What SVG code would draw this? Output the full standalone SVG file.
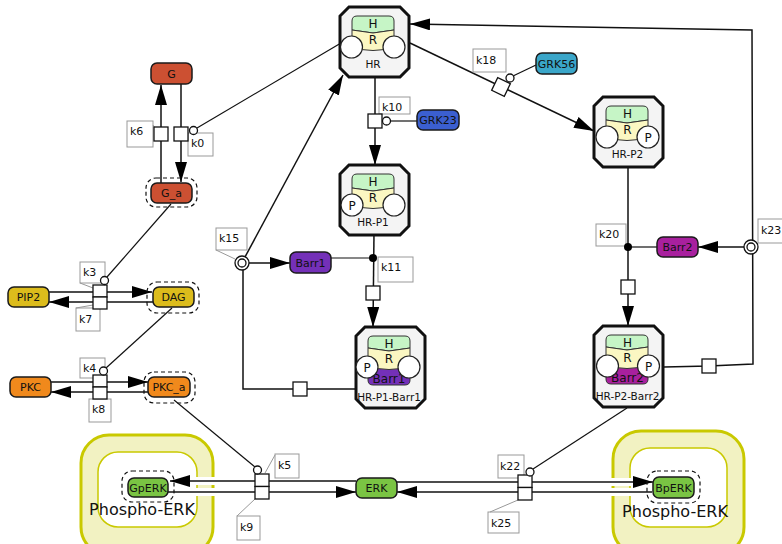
<svg xmlns="http://www.w3.org/2000/svg" xmlns:xlink="http://www.w3.org/1999/xlink" width="782" height="544" viewBox="0 0 782 544">
<style>
text{font-family:"DejaVu Sans","Liberation Sans",sans-serif;fill:#111}
.sp{stroke:#1a1a1a;stroke-width:1.5}
.spt{font-size:11px;text-anchor:middle}
.dash{fill:none;stroke:#111;stroke-width:1.2;stroke-dasharray:4,3}
.oct{fill:#f4f4f4;stroke:#111;stroke-width:3}
.hbox{fill:#c6f5c6;stroke:#333;stroke-width:1}
.rbox{fill:#fbf7c2;stroke:#333;stroke-width:1}
.cir{fill:#fff;stroke:#222;stroke-width:1.2}
.ct{font-size:12px;text-anchor:middle}
.cl{font-size:10.5px;text-anchor:middle}
.pn{fill:#fff;stroke:#111;stroke-width:1.3}
.lbl{fill:#fff;stroke:#999;stroke-width:1}
.lt{font-size:11px}
.lead{stroke:#999;stroke-width:1;fill:none}
.mod{stroke:#111;stroke-width:1.2;fill:none}
.rx{stroke:#111;stroke-width:1.5;fill:none}
.halo{stroke:#fff;stroke-width:8;fill:none}
.outer{fill:#f2f2c2;stroke:#c9c900;stroke-width:3}
.inner{fill:#fff;stroke:#c9c900;stroke-width:1.5}
.ctext{font-size:16px;text-anchor:middle}
</style>
<defs>
<marker id="arr" viewBox="0 0 20 12" refX="20" refY="6" markerWidth="20" markerHeight="12" orient="auto" markerUnits="userSpaceOnUse">
<path d="M0,0 L20,6 L0,12 z" fill="#000"/>
</marker>
<polygon id="octS" class="oct" points="9,0 60,0 69,9 69,61 60,70 9,70 0,61 0,9"/>
<polygon id="octT" class="oct" points="9,0 60,0 69,9 69,72 60,81 9,81 0,72 0,9"/>
<path id="hS" class="hbox" d="M12,14 Q12,9 17,9 L49,9 Q54,9 54,14 L54,23 L33,26 L12,23 Z"/>
<path id="rS" class="rbox" d="M12,23 L33,26 L54,23 L54,40 Q33,47 12,40 Z"/>
<path id="hT" class="hbox" d="M12,14 Q12,9 17,9 L49,9 Q54,9 54,14 L54,21 L33,24 L12,21 Z"/>
<path id="rT" class="rbox" d="M12,21 L33,24 L54,21 L54,45 L12,45 Z"/>
<path id="bT" d="M12,39 Q33,46 54,39 L54,53 Q54,58 49,58 L17,58 Q12,58 12,53 Z" stroke="#333" stroke-width="1"/>
</defs>

<!-- compartments -->
<g id="comp-left">
<rect class="outer" x="81" y="435" width="132" height="120" rx="28"/>
<rect class="inner" x="98" y="452" width="99" height="75" rx="20"/>
</g>
<g id="comp-right">
<rect class="outer" x="613" y="431" width="131" height="124" rx="28"/>
<rect class="inner" x="630" y="448" width="97" height="79" rx="20"/>
</g>

<!-- connectors -->
<g id="connectors">
<!-- k6 / k0 -->
<path class="rx" d="M161,183 V85" marker-end="url(#arr)"/>
<path class="rx" d="M181,84 V182" marker-end="url(#arr)"/>
<line class="mod" x1="197" y1="128" x2="341" y2="43"/>
<!-- k3 / k7 -->
<line class="mod" x1="171" y1="204" x2="107" y2="277"/>
<path class="rx" d="M49,292 H152" marker-end="url(#arr)"/>
<path class="rx" d="M153,302 H49" marker-end="url(#arr)"/>
<!-- k4 / k8 -->
<line class="mod" x1="172" y1="308" x2="106" y2="368"/>
<path class="rx" d="M51,382 H148" marker-end="url(#arr)"/>
<path class="rx" d="M148,392 H51" marker-end="url(#arr)"/>
<!-- k5 / k9 -->
<line class="mod" x1="174" y1="400" x2="255" y2="467"/>
<path class="halo" d="M356,481 H171"/>
<path class="halo" d="M168,492 H356"/>
<path class="rx" d="M356,481 H170" marker-end="url(#arr)"/>
<path class="rx" d="M168,492 H356" marker-end="url(#arr)"/>
<!-- k22 / k25 -->
<line class="mod" x1="627" y1="408" x2="533" y2="469"/>
<path class="halo" d="M397,482 H652"/>
<path class="halo" d="M652,492 H397"/>
<path class="rx" d="M397,482 H653" marker-end="url(#arr)"/>
<path class="rx" d="M652,492 H397" marker-end="url(#arr)"/>
<!-- k10 -->
<path class="rx" d="M375,77 V165" marker-end="url(#arr)"/>
<line class="mod" x1="390" y1="121" x2="417" y2="121"/>
<!-- k18 -->
<path class="rx" d="M410,43 L594,131" marker-end="url(#arr)"/>
<line class="mod" x1="513" y1="76" x2="536" y2="65"/>
<!-- k23 -->
<path class="rx" d="M664,367 L709,366 L753,364 L752,30 L410,24" marker-end="url(#arr)"/>
<path class="rx" d="M744,247 H698" marker-end="url(#arr)"/>
<!-- k20 -->
<path class="rx" d="M628,166 V326" marker-end="url(#arr)"/>
<line class="mod" x1="657" y1="247" x2="628" y2="247"/>
<!-- k11 -->
<path class="rx" d="M374,233 L373,327" marker-end="url(#arr)"/>
<line class="mod" x1="331" y1="258" x2="373" y2="258"/>
<!-- k15 -->
<path class="rx" d="M249,263 H290" marker-end="url(#arr)"/>
<path class="rx" d="M245,257 L343,75" marker-end="url(#arr)"/>
<path class="rx" d="M243,270 V389 H356"/>
</g>

<!-- species -->
<g id="G"><rect class="sp" x="151" y="63" width="41" height="21" rx="6" fill="#cc5032"/><text class="spt" x="171.5" y="78">G</text></g>
<g id="G_a"><rect class="dash" x="146" y="178" width="51" height="29" rx="10"/><rect class="sp" x="151" y="183" width="41" height="20" rx="6" fill="#cc5032"/><text class="spt" x="171.5" y="197">G_a</text></g>
<g id="PIP2"><rect class="sp" x="8" y="287" width="41" height="20" rx="6" fill="#dcbc1c"/><text class="spt" x="28.5" y="301">PIP2</text></g>
<g id="DAG"><rect class="dash" x="147" y="282" width="52" height="31" rx="10"/><rect class="sp" x="153" y="287" width="41" height="20" rx="6" fill="#dcbc1c"/><text class="spt" x="173.5" y="301">DAG</text></g>
<g id="PKC"><rect class="sp" x="10" y="377" width="41" height="20" rx="6" fill="#f0891c"/><text class="spt" x="30.5" y="391">PKC</text></g>
<g id="PKC_a"><rect class="dash" x="144" y="372" width="51" height="31" rx="10"/><rect class="sp" x="148" y="377" width="42" height="20" rx="6" fill="#f0891c"/><text class="spt" x="169" y="391">PKC_a</text></g>
<g id="ERK"><rect class="sp" x="356" y="478" width="41" height="20" rx="6" fill="#7ac443"/><text class="spt" x="376.5" y="492">ERK</text></g>
<g id="GpERK"><rect class="dash" x="122" y="471" width="52" height="31" rx="10"/><rect class="sp" x="128" y="478" width="40" height="19" rx="6" fill="#7ac443"/><text class="spt" x="148" y="492">GpERK</text></g>
<g id="BpERK"><rect class="dash" x="647" y="471" width="53" height="32" rx="10"/><rect class="sp" x="653" y="477" width="41" height="21" rx="6" fill="#7ac443"/><text class="spt" x="673.5" y="492">BpERK</text></g>
<g id="Barr1"><rect class="sp" x="290" y="252" width="41" height="21" rx="6" fill="#7430b8"/><text class="spt" x="310.5" y="267">Barr1</text></g>
<g id="Barr2"><rect class="sp" x="657" y="237" width="41" height="20" rx="6" fill="#a8209e"/><text class="spt" x="677.5" y="251">Barr2</text></g>
<g id="GRK23"><rect class="sp" x="417" y="110" width="42" height="20" rx="6" fill="#3b5fd0"/><text class="spt" x="438" y="124">GRK23</text></g>
<g id="GRK56"><rect class="sp" x="536" y="53" width="41" height="21" rx="6" fill="#3aa6c9"/><text class="spt" x="556.5" y="68">GRK56</text></g>

<!-- complexes -->
<g id="HR" transform="translate(340,7)">
<use href="#octS"/><use href="#hS"/><use href="#rS"/>
<circle class="cir" cx="11.5" cy="40" r="11"/><circle class="cir" cx="54" cy="40" r="11"/>
<text class="ct" x="33" y="21">H</text><text class="ct" x="33" y="37">R</text>
<text class="cl" x="33" y="61">HR</text>
</g>
<g id="HR-P1" transform="translate(340,165)">
<use href="#octS"/><use href="#hS"/><use href="#rS"/>
<circle class="cir" cx="12" cy="40" r="11"/><circle class="cir" cx="54" cy="40" r="11"/>
<text class="ct" x="33" y="21">H</text><text class="ct" x="33" y="37">R</text>
<text class="ct" x="12" y="44.5">P</text>
<text class="cl" x="33" y="61">HR-P1</text>
</g>
<g id="HR-P2" transform="translate(594,97)">
<use href="#octS"/><use href="#hS"/><use href="#rS"/>
<circle class="cir" cx="13" cy="40" r="11"/><circle class="cir" cx="54" cy="40" r="11"/>
<text class="ct" x="33.5" y="21">H</text><text class="ct" x="33.5" y="37">R</text>
<text class="ct" x="54" y="44.5">P</text>
<text class="cl" x="33.5" y="61">HR-P2</text>
</g>
<g id="HR-P1-Barr1" transform="translate(356,327)">
<use href="#octT"/><use href="#hT"/><use href="#rT"/><use href="#bT" fill="#7430b8"/>
<text class="ct" x="33" y="21">H</text><text class="ct" x="33" y="36">R</text>
<text class="ct" x="33" y="56">Barr1</text>
<circle class="cir" cx="11" cy="40" r="11"/><circle class="cir" cx="53" cy="40" r="11"/>
<text class="ct" x="11" y="44.5">P</text>
<text class="cl" x="33" y="74">HR-P1-Barr1</text>
</g>
<g id="HR-P2-Barr2" transform="translate(594,326)">
<use href="#octT"/><use href="#hT"/><use href="#rT"/><use href="#bT" fill="#a8209e"/>
<text class="ct" x="33.5" y="21">H</text><text class="ct" x="33.5" y="36">R</text>
<text class="ct" x="33.5" y="56">Barr2</text>
<circle class="cir" cx="13.5" cy="40" r="11"/><circle class="cir" cx="54.5" cy="40" r="11"/>
<text class="ct" x="54.5" y="44.5">P</text>
<text class="cl" x="33.5" y="74">HR-P2-Barr2</text>
</g>

<!-- compartment labels -->
<text class="ctext" x="142" y="515">Phospho-ERK</text>
<text class="ctext" x="675" y="517">Phospho-ERK</text>

<!-- process nodes -->
<g id="k6"><rect class="lbl" x="127" y="121" width="26" height="26"/><line class="lead" x1="153" y1="125" x2="155" y2="128"/><text class="lt" x="130" y="135">k6</text><rect class="pn" x="154" y="127" width="14" height="14"/></g>
<g id="k0"><rect class="lbl" x="188" y="133" width="25" height="23"/><text class="lt" x="191" y="147">k0</text><rect class="pn" x="174" y="127" width="14" height="14"/><circle class="pn" cx="193.5" cy="130.5" r="4"/></g>
<g id="k3"><rect class="lbl" x="80" y="262" width="25" height="21"/><line class="lead" x1="80" y1="283" x2="93" y2="288"/><text class="lt" x="83" y="276">k3</text></g>
<g id="k7"><rect class="lbl" x="76" y="308" width="24" height="23"/><line class="lead" x1="76" y1="308" x2="93" y2="305"/><text class="lt" x="79" y="323">k7</text></g>
<g id="k3k7"><rect class="pn" x="93" y="285" width="14" height="12"/><rect class="pn" x="93" y="297" width="14" height="12"/><circle class="pn" cx="104.5" cy="280.5" r="4"/></g>
<g id="k4"><rect class="lbl" x="80" y="358" width="25" height="20"/><text class="lt" x="83" y="372">k4</text></g>
<g id="k8"><rect class="lbl" x="89" y="399" width="22" height="23"/><text class="lt" x="92" y="413">k8</text></g>
<g id="k4k8"><rect class="pn" x="93" y="375" width="14" height="12"/><rect class="pn" x="93" y="387" width="14" height="12"/><circle class="pn" cx="103.5" cy="371" r="4"/></g>
<g id="k5"><rect class="lbl" x="275" y="454" width="24" height="24"/><line class="lead" x1="275" y1="455" x2="265" y2="473"/><text class="lt" x="278" y="469">k5</text></g>
<g id="k9"><rect class="lbl" x="237" y="516" width="23" height="24"/><line class="lead" x1="237" y1="516" x2="255" y2="499"/><text class="lt" x="240" y="531">k9</text></g>
<g id="k5k9"><rect class="pn" x="255" y="474" width="14" height="12.5"/><rect class="pn" x="255" y="486.5" width="14" height="12.5"/><circle class="pn" cx="257.5" cy="470" r="4"/></g>
<g id="k22"><rect class="lbl" x="498" y="455" width="26" height="23"/><text class="lt" x="500" y="470">k22</text></g>
<g id="k25"><rect class="lbl" x="488" y="512" width="31" height="21"/><line class="lead" x1="490" y1="512" x2="518" y2="500"/><text class="lt" x="491" y="527">k25</text></g>
<g id="k22k25"><rect class="pn" x="518" y="475" width="14" height="12.5"/><rect class="pn" x="518" y="487.5" width="14" height="12.5"/><circle class="pn" cx="530" cy="472" r="4"/></g>
<g id="k10"><rect class="lbl" x="379" y="97" width="31" height="17"/><text class="lt" x="382" y="111">k10</text><rect class="pn" x="368" y="114" width="14" height="14"/><circle class="pn" cx="386.5" cy="121" r="4"/></g>
<g id="k18"><rect class="lbl" x="473" y="49" width="33" height="23"/><text class="lt" x="476" y="64">k18</text><rect class="pn" x="494" y="80" width="14" height="14" transform="rotate(25.6 501 87)"/><circle class="pn" cx="510" cy="78" r="4"/></g>
<g id="k23"><rect class="lbl" x="758" y="219" width="30" height="24"/><line class="lead" x1="758" y1="243" x2="756" y2="245"/><text class="lt" x="761" y="234">k23</text><rect class="pn" x="702" y="359" width="14" height="14"/><circle class="pn" cx="751" cy="247" r="7"/><circle class="pn" cx="751" cy="247" r="4"/></g>
<g id="k20"><rect class="lbl" x="596" y="224" width="30" height="22"/><text class="lt" x="599" y="238">k20</text><circle cx="628" cy="247" r="4" fill="#000"/><rect class="pn" x="621" y="280" width="14" height="14"/></g>
<g id="k11"><rect class="lbl" x="378" y="257" width="35" height="25"/><text class="lt" x="381" y="271">k11</text><circle cx="373" cy="258" r="4" fill="#000"/><rect class="pn" x="366" y="286" width="14" height="14"/></g>
<g id="k15"><rect class="lbl" x="216" y="228" width="31" height="22"/><line class="lead" x1="216" y1="250" x2="235" y2="259"/><text class="lt" x="219" y="242">k15</text><circle class="pn" cx="242" cy="263" r="7"/><circle class="pn" cx="242" cy="263" r="4"/><rect class="pn" x="293" y="382" width="14" height="14"/></g>
</svg>
